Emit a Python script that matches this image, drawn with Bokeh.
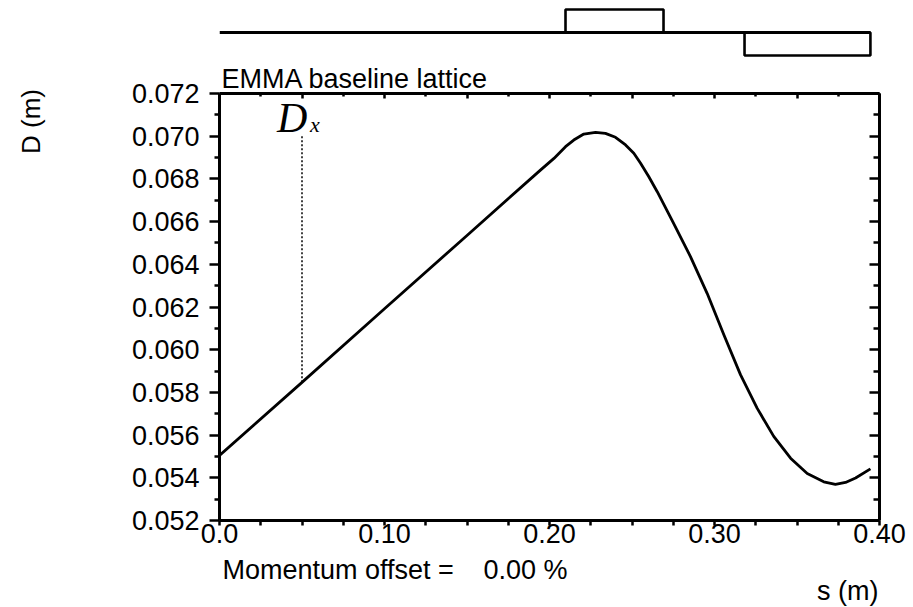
import math
import numpy as np
from bokeh.plotting import figure
from bokeh.layouts import column, row
from bokeh.models import (Range1d, LinearAxis, FixedTicker, CustomJSTickFormatter,
                          Label, ColumnDataSource)
from bokeh.embed import file_html
from bokeh.resources import INLINE

# ---------------- data ----------------
s_m = [0.000, 0.050, 0.100, 0.150, 0.1945, 0.2027, 0.2097, 0.2147, 0.2208, 0.2279,
       0.2339, 0.2400, 0.2461, 0.2511, 0.2552, 0.2602, 0.2653, 0.2753, 0.2855, 0.2956,
       0.3056, 0.3158, 0.3259, 0.3359, 0.3461, 0.3562, 0.3662, 0.3733, 0.3794, 0.3855,
       0.3945]
dx_m = [0.05505, 0.05847, 0.06192, 0.06535, 0.06841, 0.06896, 0.06951, 0.06982, 0.07010, 0.07018,
        0.07013, 0.06995, 0.06959, 0.06920, 0.06873, 0.06810, 0.06740, 0.06591, 0.06435, 0.06263,
        0.06071, 0.05882, 0.05725, 0.05594, 0.05492, 0.05420, 0.05381, 0.05369, 0.05378, 0.05399,
        0.05442]

marker_s = 0.05        # position of the D_x label marker
marker_top = 0.0700    # top of the dotted marker line

# lattice (s in m)
drift_start = [0.0]
drift_end = [0.3945]
mag_start = [0.2097, 0.3182]
mag_end = [0.2691, 0.3945]
mag_pol = [1, -1]

x_ticks = [0.0, 0.1, 0.2, 0.3, 0.4]
x_minor = [0.025, 0.05, 0.075, 0.125, 0.15, 0.175, 0.225, 0.25, 0.275, 0.325, 0.35, 0.375]
top_major = [0.0, 0.05, 0.1, 0.15, 0.2, 0.25, 0.3, 0.35, 0.4]
top_minor = [0.025, 0.075, 0.125, 0.175, 0.225, 0.275, 0.325, 0.375]
y_ticks = [0.052, 0.054, 0.056, 0.058, 0.060, 0.062, 0.064, 0.066, 0.068, 0.070, 0.072]
y_minor = [0.053, 0.055, 0.057, 0.059, 0.061, 0.063, 0.065, 0.067, 0.069, 0.071]

FONT = "Liberation Sans"
FS = "27px"
STRIP_W = 60
W = 913 - STRIP_W
LEFT = 219 - STRIP_W
RIGHT = 34
TOP_H = 60
MAIN_H = 495
BOT_H = 607 - TOP_H - MAIN_H


def blank(fig):
    fig.axis.visible = False
    fig.grid.visible = False
    fig.outline_line_color = None


# ---------------- left strip (y axis title) ----------------
ls = figure(width=STRIP_W, height=607, output_backend="svg", toolbar_location=None,
            x_range=Range1d(0, 1), y_range=Range1d(0, 1),
            min_border_left=0, min_border_right=0, min_border_top=0, min_border_bottom=0)
blank(ls)
ls.add_layout(Label(x=30, y=486, x_units="screen", y_units="screen", angle=math.pi / 2,
                    text="D (m)", text_font=FONT, text_font_size="26px",
                    text_color="black", text_baseline="middle", text_align="center"))

# ---------------- lattice strip ----------------
lat = figure(width=W, height=TOP_H, output_backend="svg", toolbar_location=None,
             x_range=Range1d(0, 0.4), y_range=Range1d(-1.217, 1.391),
             min_border_left=LEFT, min_border_right=RIGHT,
             min_border_top=0, min_border_bottom=0)
blank(lat)
lat.segment(x0=drift_start, y0=[0], x1=drift_end, y1=[0], line_color="black", line_width=2.8)
lat.quad(left=mag_start, right=mag_end,
         bottom=[min(0, p) for p in mag_pol], top=[max(0, p) for p in mag_pol],
         fill_color=None, line_color="black", line_width=2.6)

# ---------------- main plot ----------------
p = figure(width=W, height=MAIN_H, output_backend="svg", toolbar_location=None,
           x_range=Range1d(0, 0.4), y_range=Range1d(0.052, 0.072),
           min_border_left=LEFT, min_border_right=RIGHT,
           min_border_top=33, min_border_bottom=35,
           x_axis_location=None, y_axis_location=None,
           title="EMMA baseline lattice")
p.grid.visible = False
p.outline_line_color = None
p.background_fill_color = "white"
p.title.text_font = FONT
p.title.text_font_size = FS
p.title.text_font_style = "normal"
p.title.text_color = "black"
p.title.align = "left"
p.title.offset = 2
p.title.standoff = 0


def style(ax):
    ax.axis_line_width = 3
    ax.axis_line_color = "black"
    ax.major_tick_line_width = 2.5
    ax.minor_tick_line_width = 2.5
    ax.major_tick_line_color = "black"
    ax.minor_tick_line_color = "black"
    ax.major_label_text_font = FONT
    ax.major_label_text_font_size = FS
    ax.major_label_text_color = "black"


bottom = LinearAxis(ticker=FixedTicker(ticks=x_ticks, minor_ticks=x_minor),
                    formatter=CustomJSTickFormatter(code="return tick == 0 ? '0.0' : tick.toFixed(2);"))
style(bottom)
bottom.major_tick_out = 5
bottom.major_tick_in = 0
bottom.minor_tick_out = 5
bottom.minor_tick_in = 0
bottom.major_label_standoff = -2
p.add_layout(bottom, "below")

top = LinearAxis(ticker=FixedTicker(ticks=top_major, minor_ticks=top_minor),
                 formatter=CustomJSTickFormatter(code="return '';"))
style(top)
top.major_tick_in = 5
top.major_tick_out = 0
top.minor_tick_in = 3
top.minor_tick_out = 0
top.major_label_standoff = 0
p.add_layout(top, "above")

left = LinearAxis(ticker=FixedTicker(ticks=y_ticks, minor_ticks=y_minor),
                  formatter=CustomJSTickFormatter(code="return tick.toFixed(3);"))
style(left)
left.major_tick_out = 10
left.major_tick_in = 0
left.minor_tick_out = 5
left.minor_tick_in = 0
left.major_label_standoff = 10
p.add_layout(left, "left")

right = LinearAxis(ticker=FixedTicker(ticks=y_ticks, minor_ticks=y_minor),
                   formatter=CustomJSTickFormatter(code="return '';"))
style(right)
right.major_tick_in = 10
right.major_tick_out = 0
right.minor_tick_in = 6
right.minor_tick_out = 0
right.major_label_standoff = 0
p.add_layout(right, "right")

src = ColumnDataSource(data=dict(s=s_m, d=dx_m))
p.line("s", "d", source=src, line_color="black", line_width=2.8, line_join="round")

marker_bottom = float(np.interp(marker_s, s_m, dx_m))
p.segment(x0=[marker_s], y0=[marker_bottom], x1=[marker_s], y1=[marker_top],
          line_color="black", line_width=1.5, line_dash="2 2")

p.add_layout(Label(x=marker_s, y=403, x_units="data", y_units="screen", x_offset=-25,
                   text="D", text_font="Liberation Serif", text_font_style="italic",
                   text_font_size="42px", text_color="black", text_baseline="middle",
                   text_align="left"))
p.add_layout(Label(x=marker_s, y=396, x_units="data", y_units="screen", x_offset=8,
                   text="x", text_font="Liberation Serif", text_font_style="italic",
                   text_font_size="22px", text_color="black", text_baseline="middle",
                   text_align="left"))

# ---------------- bottom strip ----------------
bs = figure(width=W, height=BOT_H, output_backend="svg", toolbar_location=None,
            x_range=Range1d(0, 0.4), y_range=Range1d(0, 1),
            min_border_left=LEFT, min_border_right=RIGHT,
            min_border_top=0, min_border_bottom=0)
blank(bs)
bs.add_layout(Label(x=3, y=37.5, x_units="screen", y_units="screen",
                    text="Momentum offset =", text_font=FONT, text_font_size=FS,
                    text_color="black", text_baseline="middle", text_align="left"))
bs.add_layout(Label(x=264, y=37.5, x_units="screen", y_units="screen",
                    text="0.00 %", text_font=FONT, text_font_size=FS,
                    text_color="black", text_baseline="middle", text_align="left"))
bs.add_layout(Label(x=659, y=16.5, x_units="screen", y_units="screen",
                    text="s (m)", text_font=FONT, text_font_size=FS,
                    text_color="black", text_baseline="middle", text_align="right"))

layout = row(ls, column(lat, p, bs, spacing=0), spacing=0)
open("out.html", "w").write(file_html(layout, INLINE))
